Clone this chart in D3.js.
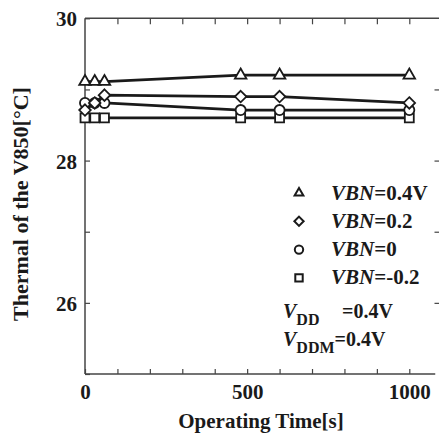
<!DOCTYPE html>
<html lang="en">
<head>
<meta charset="UTF-8">
<title>Thermal of the V850</title>
<script src="https://cdn.jsdelivr.net/npm/d3@7"></script>
<style>
    body { margin: 0; background: #fff; }
    svg { display: block; }
    svg text { font-family: "Liberation Serif", "Times New Roman", serif !important; font-weight: bold; fill: #1a1a1a; }
</style>
</head>
<body>
<div id="chart"></div>
<script>
    // values
    const times = [0, 30, 60, 480, 600, 1000];
    const vbnPos04 = [29.11, 29.11, 29.11, 29.2, 29.2, 29.2];
    const vbnPos02 = [28.71, 28.81, 28.92, 28.9, 28.9, 28.81];
    const vbnZero = [28.81, 28.81, 28.81, 28.71, 28.71, 28.71];
    const vbnNeg02 = [28.6, 28.6, 28.6, 28.6, 28.6, 28.6];
    const seriesLabels = ["=0.4V", "=0.2", "=0", "=-0.2"];
    const xTickLabels = [0, 500, 1000];
    const yTickLabels = [26, 28, 30];

    const width = 439, height = 438;

    const series = [
        {values: vbnNeg02, shape: d3.symbolSquare, size: 80, label: seriesLabels[3], row: 3},
        {values: vbnZero, shape: d3.symbolCircle, size: 80, label: seriesLabels[2], row: 2},
        {values: vbnPos02, shape: d3.symbolDiamond2, size: 85, label: seriesLabels[1], row: 1},
        {values: vbnPos04, shape: d3.symbolTriangle2, size: 95, label: seriesLabels[0], row: 0}
    ];

    const x = d3.scaleLinear().domain([0, 1000]).range([85, 409.3]);
    const y = d3.scaleLinear().domain([25, 30]).range([374, 18.3]);

    const svg = d3.select("#chart").append("svg")
        .attr("width", width)
        .attr("height", height);

    // axes
    const xTicks = d3.range(0, 1001, 100);
    const yTicks = d3.range(25, 30.01, 1);
    const axisColor = "#444";

    const bottomAxis = svg.append("g")
        .attr("transform", `translate(0,${y(25)})`)
        .call(d3.axisBottom(x).tickValues(xTicks).tickSizeInner(-5).tickSizeOuter(0)
            .tickPadding(10)
            .tickFormat(d => xTickLabels.includes(d) ? d : ""));
    bottomAxis.select(".domain").remove();
    bottomAxis.append("line").attr("x1", x(0)).attr("x2", x(1080)).attr("stroke", axisColor).attr("stroke-width", 1.5);

    const topAxis = svg.append("g")
        .attr("transform", `translate(0,${y(30)})`)
        .call(d3.axisTop(x).tickValues(xTicks.slice(1)).tickSizeInner(-6).tickSizeOuter(0).tickFormat(""));
    topAxis.select(".domain").remove();
    topAxis.append("line").attr("x1", x(0)).attr("x2", width).attr("stroke", axisColor).attr("stroke-width", 1.5);

    const leftAxis = svg.append("g")
        .attr("transform", `translate(${x(0)},0)`)
        .call(d3.axisLeft(y).tickValues(yTicks).tickSizeInner(-5).tickSizeOuter(0)
            .tickPadding(8)
            .tickFormat(d => yTickLabels.includes(d) ? d : ""));
    leftAxis.select(".domain").remove();
    leftAxis.append("line").attr("y1", y(25)).attr("y2", y(30)).attr("stroke", axisColor).attr("stroke-width", 1.5);

    const rightAxis = svg.append("g")
        .attr("transform", `translate(${width + 0.5},0)`)
        .call(d3.axisRight(y).tickValues(yTicks.slice(1, 5)).tickSizeInner(-5).tickSizeOuter(0).tickFormat(""));
    rightAxis.select(".domain").remove();

    svg.selectAll("g").attr("font-family", null).attr("font-size", null);
    svg.selectAll(".tick line").attr("stroke", axisColor).attr("stroke-width", 1.2);
    svg.selectAll(".tick text").style("font-size", "21px").attr("fill", "#1a1a1a");
    leftAxis.selectAll(".tick text").attr("dy", "0.36em");

    // lines and markers
    const line = d3.line().x((d, i) => x(times[i])).y(d => y(d));

    series.forEach(s => {
        svg.append("path")
            .datum(s.values)
            .attr("fill", "none")
            .attr("stroke", "#1a1a1a")
            .attr("stroke-width", 2.8)
            .attr("d", line);
    });
    series.forEach(s => {
        svg.append("g").selectAll("path")
            .data(s.values)
            .join("path")
            .attr("transform", (d, i) => `translate(${x(times[i])},${y(d)})`)
            .attr("d", d3.symbol().type(s.shape).size(s.size)())
            .attr("fill", "#fff")
            .attr("stroke", "#1a1a1a")
            .attr("stroke-width", 1.8);
    });

    // legend
    const legend = svg.append("g");
    series.forEach(s => {
        const cy = 193 + s.row * 28.3;
        legend.append("path")
            .attr("transform", `translate(299,${cy})`)
            .attr("d", d3.symbol().type(s.shape).size(55)())
            .attr("fill", "#fff")
            .attr("stroke", "#1a1a1a")
            .attr("stroke-width", 2);
        const t = legend.append("text")
            .attr("x", 331).attr("y", cy + 6.5)
            .style("font-size", "21px");
        t.append("tspan").style("font-style", "italic").text("VBN");
        t.append("tspan").text(s.label);
    });

    const vdd = legend.append("text").attr("x", 283).attr("y", 318).style("font-size", "20px");
    vdd.append("tspan").style("font-style", "italic").text("V");
    vdd.append("tspan").attr("dy", 7).style("font-size", "16px").text("DD");
    vdd.append("tspan").attr("x", 342).attr("dy", -7).text("=0.4V");

    const vddm = legend.append("text").attr("x", 283).attr("y", 346).style("font-size", "20px");
    vddm.append("tspan").style("font-style", "italic").text("V");
    vddm.append("tspan").attr("dy", 7).style("font-size", "16px").text("DDM");
    vddm.append("tspan").attr("dy", -7).text("=0.4V");

    // axis titles
    svg.append("text")
        .attr("x", 261).attr("y", 428)
        .attr("text-anchor", "middle")
        .style("font-size", "21px")
        .text("Operating Time[s]");

    svg.append("text")
        .attr("transform", "translate(28,204) rotate(-90)")
        .attr("text-anchor", "middle")
        .style("font-size", "22px")
        .text("Thermal of the V850[°C]");
</script>
</body>
</html>
